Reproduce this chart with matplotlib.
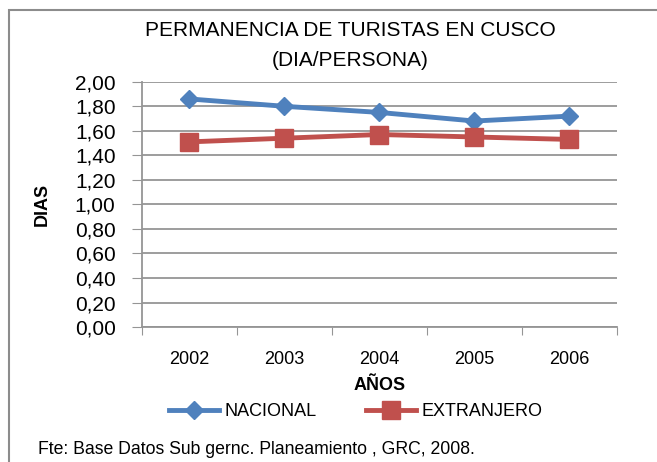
import matplotlib.pyplot as plt
from matplotlib.patches import Rectangle
from matplotlib.ticker import FixedLocator, NullFormatter

plt.rcParams["font.family"] = ["Liberation Sans Narrow", "Liberation Sans", "DejaVu Sans"]

years = ["2002", "2003", "2004", "2005", "2006"]
nacional = [1.86, 1.80, 1.75, 1.68, 1.72]
extranjero = [1.51, 1.54, 1.57, 1.55, 1.53]
y_ticks = [0.0, 0.2, 0.4, 0.6, 0.8, 1.0, 1.2, 1.4, 1.6, 1.8, 2.0]

fig = plt.figure(figsize=(6.57, 4.62), dpi=100)
ax = fig.add_axes([0.216, 0.292, 0.723, 0.531])

# marco del gráfico
fig.patches.append(Rectangle((9 / 657, -0.1), 1.2, 1 - 10 / 462 + 0.1,
                             transform=fig.transFigure, fill=False,
                             edgecolor="#8c8c8c", linewidth=1.5))

x = list(range(len(years)))
ax.plot(x, nacional, color="#4F81BD", linewidth=3.5, marker="D", markersize=9,
        label="NACIONAL")
ax.plot(x, extranjero, color="#C0504D", linewidth=3.5, marker="s", markersize=13,
        label="EXTRANJERO")

ax.set_xlim(-0.5, len(years) - 0.5)
ax.set_ylim(0, 2.0)
ax.set_yticks(y_ticks)
ax.set_yticklabels([f"{v:.2f}".replace(".", ",") for v in y_ticks], fontsize=15)
ax.grid(axis="y", color="#959595", linewidth=1.3)
ax.set_axisbelow(True)

ax.xaxis.set_major_locator(FixedLocator([i - 0.5 for i in range(len(years) + 1)]))
ax.xaxis.set_major_formatter(NullFormatter())
ax.xaxis.set_minor_locator(FixedLocator(x))
ax.set_xticklabels(years, minor=True, fontsize=13)
ax.tick_params(axis="x", which="major", length=6, color="#959595", direction="out")
ax.tick_params(axis="x", which="minor", length=0, pad=17)
ax.tick_params(axis="y", length=7, color="#959595", pad=12)

for side in ["top", "right"]:
    ax.spines[side].set_visible(False)
for side in ["left", "bottom"]:
    ax.spines[side].set_color("#959595")
    ax.spines[side].set_linewidth(1.3)

ax.set_ylabel("DIAS", fontsize=13, fontweight="bold", labelpad=17)
ax.set_xlabel("AÑOS", fontsize=13, fontweight="bold", labelpad=7)

fig.text(0.533, 0.935, "PERMANENCIA DE TURISTAS EN CUSCO", ha="center", va="center",
         fontsize=15)
fig.text(0.533, 0.868, "(DIA/PERSONA)", ha="center", va="center", fontsize=15)

ax.legend(loc="upper center", bbox_to_anchor=(0.45, -0.245), ncol=2, frameon=False,
          fontsize=13, handlelength=2.8, columnspacing=2.7, handletextpad=0.3)

fig.text(0.058, 0.027, "Fte: Base Datos Sub gernc. Planeamiento , GRC, 2008.",
         ha="left", va="center", fontsize=12.7)

fig.savefig("out.png", dpi=100)
